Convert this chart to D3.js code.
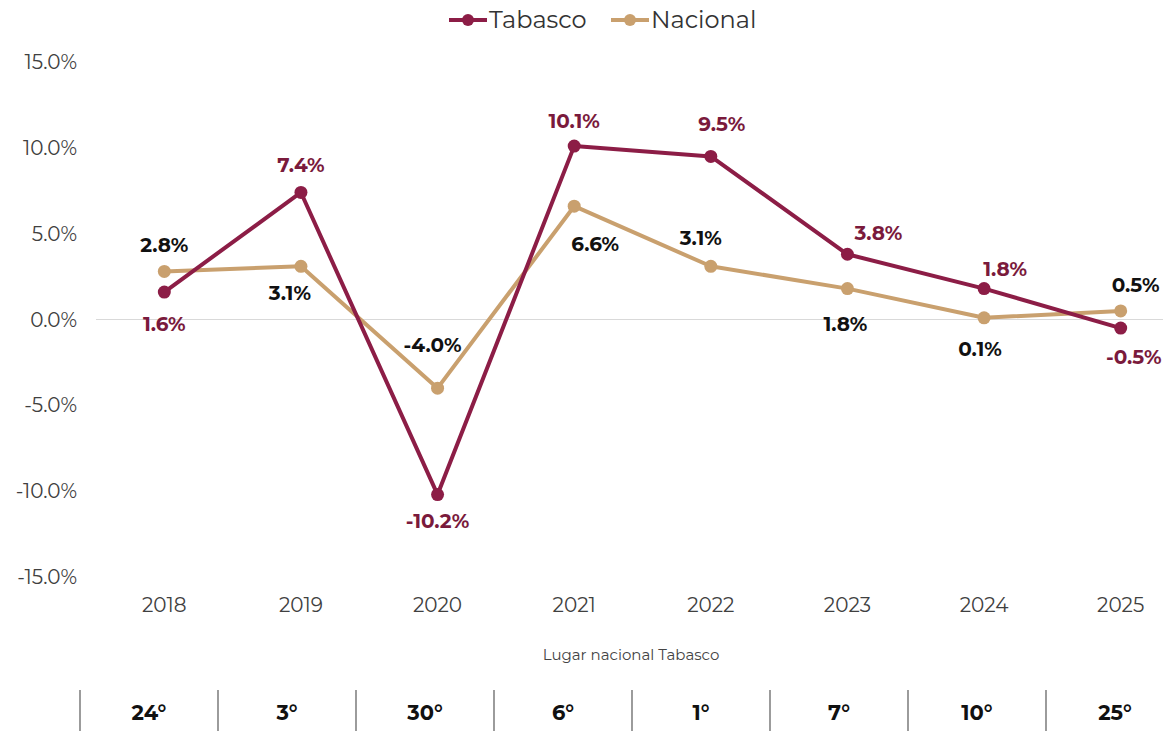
<!DOCTYPE html>
<html><head><meta charset="utf-8">
<script src="https://cdn.jsdelivr.net/npm/d3@7/dist/d3.min.js"></script>
<style>body{margin:0;background:#fff;overflow:hidden}svg{display:block;font-family:Montserrat,"Noto Sans",sans-serif}</style>
</head><body><svg id="c" width="1163" height="731"></svg>
<script>
const years = ["2018","2019","2020","2021","2022","2023","2024","2025"];
const tabasco = [1.6, 7.4, -10.2, 10.1, 9.5, 3.8, 1.8, -0.5];
const nacional = [2.8, 3.1, -4.0, 6.6, 3.1, 1.8, 0.1, 0.5];
const ranking = ["24°","3°","30°","6°","1°","7°","10°","25°"];
const yTicks = [15, 10, 5, 0, -5, -10, -15];

// label placement (layout)
const tabDx = [0, 0, 0, 0, 11, 31, 21, 13];
const tabDy = [32, -27, 26, -25, -32, -21, -20, 29];
const nacDx = [0, -11, -5, 21, -10, -2, -4, 15];
const nacDy = [-26, 27, -43, 38, -28, 35, 31, -26];

const cTab = "#8c1d46", cNac = "#c9a06e";
const svg = d3.select("#c");
const x = d3.scaleBand().domain(years).range([96, 1189]);
const y = d3.scaleLinear().domain([-15, 15]).range([577, 62]);
const xc = d => x(d) + x.bandwidth() / 2;

// y axis labels
svg.append("g").selectAll("text").data(yTicks).join("text")
  .attr("x", 77).attr("y", d => y(d)).attr("dy", "0.35em")
  .attr("text-anchor", "end").attr("font-size", 20).attr("fill", "#404040")
  .text(d => d.toFixed(1) + "%");
// zero line
svg.append("line").attr("x1", 96).attr("x2", 1163).attr("y1", y(0)).attr("y2", y(0))
  .attr("stroke", "#d9d9d9").attr("stroke-width", 1.2);
// x labels
svg.append("g").selectAll("text").data(years).join("text")
  .attr("x", d => xc(d)).attr("y", 605).attr("dy", "0.35em")
  .attr("text-anchor", "middle").attr("font-size", 20).attr("fill", "#404040").text(d => d);

function series(vals, color) {
  const line = d3.line().x((d, i) => xc(years[i])).y(d => y(d));
  svg.append("path").datum(vals).attr("d", line).attr("fill", "none")
    .attr("stroke", color).attr("stroke-width", 4).attr("stroke-linejoin", "round");
  svg.append("g").selectAll("circle").data(vals).join("circle")
    .attr("cx", (d, i) => xc(years[i])).attr("cy", d => y(d)).attr("r", 6.5).attr("fill", color);
}
series(nacional, cNac);
series(tabasco, cTab);

function labels(vals, dx, dy, color) {
  svg.append("g").selectAll("text").data(vals).join("text")
    .attr("x", (d, i) => xc(years[i]) + dx[i]).attr("y", (d, i) => y(d) + dy[i]).attr("dy", "0.35em")
    .attr("text-anchor", "middle").attr("font-size", 20).attr("font-weight", "bold").attr("fill", color)
    .text(d => d.toFixed(1) + "%");
}
labels(tabasco, tabDx, tabDy, "#7a1a3c");
labels(nacional, nacDx, nacDy, "#111");

// legend
const leg = [{n: "Tabasco", c: cTab, x: 449}, {n: "Nacional", c: cNac, x: 611}];
const lg = svg.append("g").selectAll("g").data(leg).join("g").attr("transform", d => `translate(${d.x},20)`);
lg.append("line").attr("x1", 0).attr("x2", 38).attr("stroke", d => d.c).attr("stroke-width", 4);
lg.append("circle").attr("cx", 19).attr("r", 6).attr("fill", d => d.c);
lg.append("text").attr("x", 40).attr("dy", "0.35em").attr("font-size", 24).attr("fill", "#333").text(d => d.n);

// ranking row
svg.append("text").attr("x", 631).attr("y", 655).attr("dy", "0.35em").attr("text-anchor", "middle")
  .attr("font-size", 15).attr("fill", "#444").text("Lugar nacional Tabasco");
const xr = d3.scaleBand().domain(years).range([80, 1184]);
svg.append("g").selectAll("line").data(years).join("line")
  .attr("x1", d => xr(d)).attr("x2", d => xr(d)).attr("y1", 690).attr("y2", 731)
  .attr("stroke", "#666").attr("stroke-width", 1.3);
svg.append("g").selectAll("text").data(ranking).join("text")
  .attr("x", (d, i) => xr(years[i]) + xr.bandwidth() / 2).attr("y", 713).attr("dy", "0.35em")
  .attr("text-anchor", "middle").attr("font-size", 21).attr("font-weight", "bold").attr("fill", "#111").text(d => d);
</script></body></html>
